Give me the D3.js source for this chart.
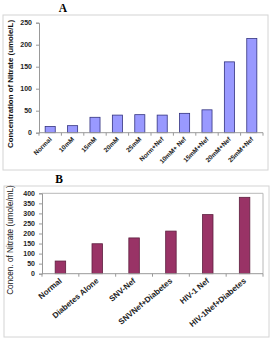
<!DOCTYPE html>
<html>
<head>
<meta charset="utf-8">
<script src="https://cdn.jsdelivr.net/npm/d3@7"></script>
<style>
	body { margin: 0; background: #fff; }
	svg { display: block; }
</style>
</head>
<body>
<div id="chart"></div>
<script>
// Panel A data
const catsA = ['Normal', '10mM', '15mM', '20mM', '25mM', 'Norm+Nef', '10mM+ Nef', '15mM+Nef', '20mM+Nef', '25mM+Nef'];
const valsA = [14, 16, 35, 40, 41, 40, 44, 52, 161, 214];
const ticksA = [0, 50, 100, 150, 200, 250];

// Panel B data
const catsB = ['Normal', 'Diabetes Alone', 'SNV-Nef', 'SNVNef+Diabetes', 'HIV-1 Nef', 'HIV-1Nef+Diabetes'];
const valsB = [63, 149, 178, 212, 294, 380];
const ticksB = [0, 50, 100, 150, 200, 250, 300, 350, 400];

const svg = d3.select('#chart')
	.append('svg')
	.attr('width', 271)
	.attr('height', 342);

function drawPanel(opt) {
	const g = svg.append('g');

	// outer frame
	g.append('rect')
		.attr('x', opt.frame[0]).attr('y', opt.frame[1])
		.attr('width', opt.frame[2] - opt.frame[0])
		.attr('height', opt.frame[3] - opt.frame[1])
		.attr('fill', 'none')
		.attr('stroke', '#d4d4d4')
		.attr('stroke-width', 1);

	// panel letter
	g.append('text')
		.attr('x', opt.letterPos[0])
		.attr('y', opt.letterPos[1])
		.attr('text-anchor', 'middle')
		.style('font-family', '"Liberation Serif", "DejaVu Serif", serif')
		.style('font-weight', 'bold')
		.style('font-size', '11.5px')
		.text(opt.letter);

	const x = d3.scaleBand()
		.domain(opt.cats)
		.range([opt.left, opt.right])
		.paddingInner(opt.pad)
		.paddingOuter(opt.pad / 2);

	const y = d3.scaleLinear()
		.domain([0, opt.ticks[opt.ticks.length - 1]])
		.range([opt.bottom, opt.top]);

	// plot area frame (panel B only)
	if (opt.plotFrame) {
		g.append('path')
			.attr('d', `M${opt.left},${opt.top}H${opt.right}V${opt.bottom}`)
			.attr('fill', 'none')
			.attr('stroke', '#b8b8b8');
	}

	// bars
	g.selectAll('rect.bar')
		.data(opt.vals)
		.enter()
		.append('rect')
		.attr('class', 'bar')
		.attr('x', (d, i) => x(opt.cats[i]))
		.attr('y', (d) => y(d))
		.attr('width', x.bandwidth())
		.attr('height', (d) => y(0) - y(d))
		.attr('fill', opt.fill)
		.attr('stroke', opt.stroke)
		.attr('stroke-width', 0.8);

	// y axis
	const yAxis = g.append('g')
		.attr('transform', `translate(${opt.left},0)`)
		.call(d3.axisLeft(y).tickValues(opt.ticks).tickSize(3).tickPadding(4));
	yAxis.select('.domain').attr('stroke', '#999');
	yAxis.selectAll('.tick line').attr('stroke', '#999');
	yAxis.selectAll('.tick text')
		.attr('fill', '#222')
		.style('font-family', 'Arial, "Liberation Sans", sans-serif')
		.style('font-weight', 'bold')
		.style('font-size', '7px');

	// x axis with ticks at category boundaries
	const step = x.step();
	const bounds = d3.range(opt.cats.length + 1).map((i) => opt.left + i * step);
	g.append('line')
		.attr('x1', opt.left).attr('x2', opt.right)
		.attr('y1', opt.bottom).attr('y2', opt.bottom)
		.attr('stroke', '#999');
	g.selectAll('line.xt')
		.data(bounds)
		.enter()
		.append('line')
		.attr('class', 'xt')
		.attr('x1', (d) => d).attr('x2', (d) => d)
		.attr('y1', opt.bottom).attr('y2', opt.bottom + 3)
		.attr('stroke', '#999');

	// x labels, rotated
	g.selectAll('text.xl')
		.data(opt.cats)
		.enter()
		.append('text')
		.attr('class', 'xl')
		.attr('text-anchor', 'end')
		.attr('transform', (d) => `translate(${x(d) + x.bandwidth() / 2 + opt.labelDx},${opt.bottom + opt.labelDy}) rotate(${opt.angle})`)
		.attr('fill', '#222')
		.style('font-family', 'Arial, "Liberation Sans", sans-serif')
		.style('font-weight', 'bold')
		.style('font-size', opt.xSize + 'px')
		.text((d) => d);

	// y axis title
	g.append('text')
		.attr('transform', `translate(${opt.yTitlePos[0]},${opt.yTitlePos[1]}) rotate(-90)`)
		.attr('text-anchor', 'middle')
		.attr('fill', '#111')
		.style('font-family', 'Arial, "Liberation Sans", sans-serif')
		.style('font-weight', opt.yBold ? 'bold' : 'normal')
		.style('font-size', opt.ySize + 'px')
		.text(opt.yTitle);
}

drawPanel({
	letter: 'A',
	letterPos: [63, 12],
	frame: [3, 15, 268, 170],
	cats: catsA,
	vals: valsA,
	ticks: ticksA,
	left: 39, right: 263, top: 22.7, bottom: 132.7,
	pad: 0.55,
	fill: '#9999ff',
	stroke: '#333380',
	plotFrame: false,
	angle: -45,
	labelDx: 2, labelDy: 7,
	xSize: 6.5,
	yTitle: 'Concentration of Nitrate (umole/L)',
	yTitlePos: [12.5, 84],
	yBold: true, ySize: 7.9
});

drawPanel({
	letter: 'B',
	letterPos: [59, 183],
	frame: [4, 186, 269, 337],
	cats: catsB,
	vals: valsB,
	ticks: ticksB,
	left: 42, right: 263, top: 193.3, bottom: 273.7,
	pad: 0.715,
	fill: '#993366',
	stroke: '#5e1f3f',
	plotFrame: true,
	angle: -40,
	labelDx: 2, labelDy: 8,
	xSize: 8,
	yTitle: 'Concen. of Nitrate (umole/mL)',
	yTitlePos: [13, 240],
	yBold: false, ySize: 8.2
});
</script>
</body>
</html>
